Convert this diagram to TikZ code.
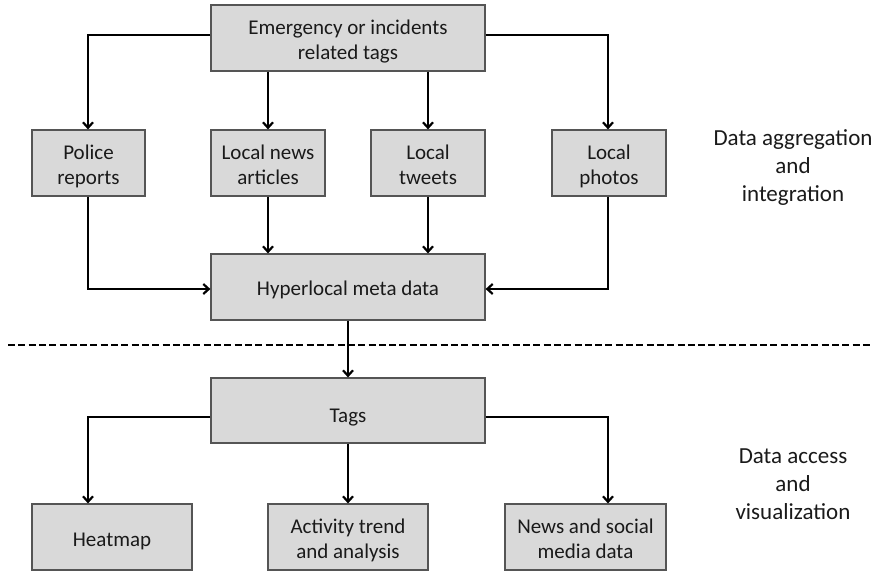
\documentclass[tikz,border=0pt]{standalone}
\usepackage{fontspec}
\setmainfont{Carlito}
\usetikzlibrary{arrows.meta,calc}
\definecolor{boxfill}{HTML}{D9D9D9}
\definecolor{boxline}{HTML}{555555}
\definecolor{txt}{HTML}{1A1A1A}
\newcommand\bxt[2][4pt]{\raisebox{-#1}[\height][\depth]{\begin{tabular}{@{}c@{}}#2\end{tabular}}}
\tikzset{
  box/.style={draw=boxline,fill=boxfill,line width=1.2pt,inner sep=2pt,
    text=txt,font=\fontsize{21}{25}\selectfont},
  conn/.style={-{Straight Barb[length=5.5pt,width=10pt]},line width=2.2pt,line join=miter},
  side/.style={align=center,text=txt,font=\fontsize{23}{28}\selectfont}
}
\begin{document}
\begin{tikzpicture}[x=1pt,y=-1pt]
\useasboundingbox (0,0) rectangle (878,571);
\node[box,minimum width=274pt,minimum height=66pt] (top) at (348,38) {\bxt{Emergency or incidents\\related tags}};
\node[box,minimum width=113pt,minimum height=66pt] (police) at (88.5,163) {\bxt{Police\\reports}};
\node[box,minimum width=114pt,minimum height=66pt] (news) at (268,163) {\bxt{Local news\\articles}};
\node[box,minimum width=114pt,minimum height=66pt] (tweets) at (428,163) {\bxt{Local\\tweets}};
\node[box,minimum width=114pt,minimum height=66pt] (photos) at (609,163) {\bxt{Local\\photos}};
\node[box,minimum width=274pt,minimum height=66pt] (hyper) at (348,287) {\bxt[3pt]{Hyperlocal meta data}};
\node[box,minimum width=274pt,minimum height=65pt] (tags) at (348,410.5) {\bxt[7pt]{Tags}};
\node[box,minimum width=160pt,minimum height=66pt] (heat) at (112,537) {\bxt{Heatmap}};
\node[box,minimum width=160pt,minimum height=66pt] (act) at (348,537) {\bxt{Activity trend\\and analysis}};
\node[box,minimum width=161pt,minimum height=66pt] (soc) at (585.5,537) {\bxt{News and social\\media data}};
\node[side] (agg) at (793,168) {Data aggregation\\and\\integration};
\node[side] (acc) at (793,484) {Data access\\and\\visualization};
\coordinate (dl) at (8,345);
\coordinate (dr) at (870,345);
\coordinate (topL) at ($(top.west)+(0,-3)$);
\coordinate (topR) at ($(top.east)+(0,-3)$);
\coordinate (policeN) at ($(police.north)+(-0.5,0)$);
\coordinate (policeS) at ($(police.south)+(-0.5,0)$);
\coordinate (photoN) at ($(photos.north)+(-1,0)$);
\coordinate (photoS) at ($(photos.south)+(-1,0)$);
\coordinate (hypL) at ($(hyper.west)+(0,2)$);
\coordinate (hypR) at ($(hyper.east)+(0,2)$);
\coordinate (tagL) at ($(tags.west)+(0,6.5)$);
\coordinate (tagR) at ($(tags.east)+(0,6.5)$);
\coordinate (heatN) at ($(heat.north)+(-24,0)$);
\coordinate (socN) at ($(soc.north)+(22.5,0)$);
\draw[line width=2.3pt,dash pattern=on 7pt off 3.3pt] (dl) -- (dr);
\draw[conn] (topL) -| (policeN);
\draw[conn] (topR) -| (photoN);
\draw[conn] (top.south -| news.north) -- (news.north);
\draw[conn] (top.south -| tweets.north) -- (tweets.north);
\draw[conn] (policeS) |- (hypL);
\draw[conn] (photoS) |- (hypR);
\draw[conn] (news.south) -- (news.south |- hyper.north);
\draw[conn] (tweets.south) -- (tweets.south |- hyper.north);
\draw[conn] (hyper.south) -- (tags.north);
\draw[conn] (tagL) -| (heatN);
\draw[conn] (tags.south) -- (act.north);
\draw[conn] (tagR) -| (socN);
\end{tikzpicture}
\end{document}
